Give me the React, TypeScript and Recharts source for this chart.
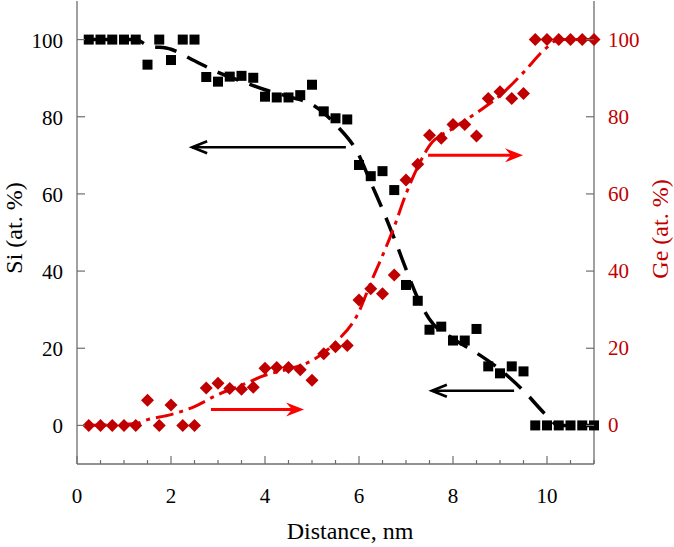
import { ComposedChart, Scatter, Line, XAxis, YAxis, ReferenceLine } from "recharts";

const AXIS = "#6e6e6e";
const GE_DARK = "#c00000";
const FIT_RED = "#e80000";
const ARROW_RED = "#ff0000";
const FONT = "'Times New Roman', 'Liberation Serif', Times, serif";

// measured composition profile
const distance = [
  0.25, 0.5, 0.75, 1.0, 1.25, 1.5, 1.75, 2.0, 2.25, 2.5, 2.75, 3.0, 3.25, 3.5, 3.75,
  4.0, 4.25, 4.5, 4.75, 5.0, 5.25, 5.5, 5.75, 6.0, 6.25, 6.5, 6.75, 7.0, 7.25, 7.5,
  7.75, 8.0, 8.25, 8.5, 8.75, 9.0, 9.25, 9.5, 9.75, 10.0, 10.25, 10.5, 10.75, 11.0,
];
const siValues = [
  100, 100, 100, 100, 100, 93.5, 100, 94.7, 100, 100, 90.3, 89.1, 90.4, 90.6, 90.1,
  85.2, 85, 85, 85.6, 88.3, 81.4, 79.6, 79.3, 67.5, 64.6, 65.9, 61, 36.4, 32.3, 24.8,
  25.6, 22, 22, 25, 15.3, 13.5, 15.3, 14, 0, 0, 0, 0, 0, 0,
];
const geValues = [
  0, 0, 0, 0, 0, 6.5, 0, 5.3, 0, 0, 9.7, 10.9, 9.6, 9.4, 9.9,
  14.8, 15, 15, 14.4, 11.7, 18.6, 20.4, 20.7, 32.5, 35.4, 34.1, 39, 63.6, 67.7, 75.2,
  74.4, 78, 78, 75, 84.7, 86.5, 84.7, 86, 100, 100, 100, 100, 100, 100,
];

// fitted curves
const fitX = [
  0.25, 1.25, 1.5, 2.0, 2.5, 3.0, 3.5, 4.0, 4.5, 5.0, 5.5, 6.0, 6.25, 6.5, 6.75,
  7.0, 7.25, 7.5, 8.0, 8.5, 9.0, 9.5, 10.0, 10.25, 11.0,
];
const siFit = [
  100, 100, 98.5, 97.5, 94.5, 91.5, 89.2, 87, 85.2, 83.2, 78, 70, 63, 56, 48.5,
  40.5, 33, 27.5, 22.5, 18.8, 14.5, 9, 2.5, 0, 0,
];
const geFit = [
  0, 0.5, 1.5, 2.8, 4.9, 8, 10.4, 13, 14.6, 16.8, 21.5, 29.5, 37, 44, 51.5,
  60, 67, 72.5, 77, 81, 85.5, 91.5, 98, 100, 100,
];

// annotation arrows: [xFrom, xTo, y]
const siArrows = [
  [5.72, 2.45, 72.1],
  [9.3, 7.55, 9.0],
];
const geArrows = [
  [2.85, 4.83, 4.1],
  [7.47, 9.49, 70.0],
];

const xTicks = [0, 0.5, 1, 1.5, 2, 2.5, 3, 3.5, 4, 4.5, 5, 5.5, 6, 6.5, 7, 7.5, 8, 8.5, 9, 9.5, 10, 10.5, 11];
const yTicks = [0, 20, 40, 60, 80, 100];

const siPoints = distance.map((x, i) => ({ x, y: siValues[i] }));
const gePoints = distance.map((x, i) => ({ x, y: geValues[i] }));
const siFitPoints = fitX.map((x, i) => ({ x, y: siFit[i] }));
const geFitPoints = fitX.map((x, i) => ({ x, y: geFit[i] }));

const textStyle = { fontFamily: FONT, fontSize: 21 };
const titleStyle = { fontFamily: FONT, fontSize: 24 };

function BottomTick({ x, y, payload }: any) {
  const v = payload.value;
  const major = v % 2 === 0;
  return (
    <g>
      <line x1={x} x2={x} y1={y} y2={y - (major ? 8 : 4)} stroke={AXIS} strokeWidth={1.2} />
      {major && (
        <text x={x} y={y + 39} textAnchor="middle" style={textStyle} fill="#000">
          {v}
        </text>
      )}
    </g>
  );
}

function TopTick({ x, y, payload }: any) {
  const major = payload.value % 2 === 0;
  return <line x1={x} x2={x} y1={y} y2={y + (major ? 8 : 4)} stroke={AXIS} strokeWidth={1.2} />;
}

function LeftTick({ x, y, payload }: any) {
  return (
    <g>
      <line x1={x} x2={x + 8} y1={y} y2={y} stroke={AXIS} strokeWidth={1.2} />
      <text x={x - 14} y={y + 8} textAnchor="end" style={textStyle} fill="#000">
        {payload.value}
      </text>
    </g>
  );
}

function RightTick({ x, y, payload }: any) {
  return (
    <g>
      <line x1={x} x2={x - 8} y1={y} y2={y} stroke={AXIS} strokeWidth={1.2} />
      <text x={x + 14} y={y + 7} textAnchor="start" style={textStyle} fill={GE_DARK}>
        {payload.value}
      </text>
    </g>
  );
}

const square = ({ cx, cy }: any) => <rect x={cx - 5} y={cy - 5} width={10} height={10} fill="#000" />;
const diamond = ({ cx, cy }: any) => (
  <polygon points={`${cx},${cy - 6.5} ${cx + 6.5},${cy} ${cx},${cy + 6.5} ${cx - 6.5},${cy}`} fill={GE_DARK} />
);

// open "<" head for the Si arrows
const blackArrow = ({ x1, y1, x2, y2 }: any) => {
  const dir = Math.sign(x2 - x1);
  return (
    <g stroke="#000" strokeWidth={2.6} fill="none">
      <line x1={x1} y1={y1} x2={x2} y2={y2} />
      <polyline points={`${x2 - dir * 15},${y2 - 6} ${x2},${y2} ${x2 - dir * 15},${y2 + 6}`} />
    </g>
  );
};

// filled notched head for the Ge arrows
const redArrow = ({ x1, y1, x2, y2 }: any) => {
  const dir = Math.sign(x2 - x1);
  return (
    <g>
      <line x1={x1} y1={y1} x2={x2 - dir * 10} y2={y2} stroke={ARROW_RED} strokeWidth={3} />
      <polygon
        points={`${x2},${y2} ${x2 - dir * 18},${y2 - 7} ${x2 - dir * 12},${y2} ${x2 - dir * 18},${y2 + 7}`}
        fill={ARROW_RED}
      />
    </g>
  );
};

export default function App() {
  return (
    <div style={{ position: "absolute", left: 0, top: 0, background: "#fff", fontFamily: FONT }}>
      <ComposedChart width={674} height={547} margin={{ top: 1, right: 20, bottom: 43, left: 17 }}>
        <XAxis
          xAxisId="b"
          dataKey="x"
          type="number"
          domain={[0, 11]}
          ticks={xTicks}
          interval={0}
          height={40}
          tickSize={0}
          tickMargin={0}
          tickLine={false}
          axisLine={{ stroke: AXIS, strokeWidth: 1.3 }}
          tick={<BottomTick />}
          label={{
            content: () => (
              <text x={350} y={539} textAnchor="middle" style={titleStyle} fill="#000">
                Distance, nm
              </text>
            ),
          }}
        />
        <XAxis
          xAxisId="t"
          orientation="top"
          dataKey="x"
          type="number"
          domain={[0, 11]}
          ticks={xTicks}
          interval={0}
          height={0}
          tickSize={0}
          tickMargin={0}
          tickLine={false}
          axisLine={{ stroke: AXIS, strokeWidth: 1.3 }}
          tick={<TopTick />}
        />
        <YAxis
          yAxisId="l"
          dataKey="y"
          type="number"
          domain={[-10, 110]}
          ticks={yTicks}
          interval={0}
          width={60}
          tickSize={0}
          tickMargin={0}
          tickLine={false}
          axisLine={{ stroke: AXIS, strokeWidth: 1.3 }}
          tick={<LeftTick />}
          label={{
            content: () => (
              <text
                x={22}
                y={228}
                transform="rotate(-90 22 228)"
                textAnchor="middle"
                style={titleStyle}
                fill="#000"
              >
                Si (at. %)
              </text>
            ),
          }}
        />
        <YAxis
          yAxisId="r"
          orientation="right"
          dataKey="y"
          type="number"
          domain={[-10, 110]}
          ticks={yTicks}
          interval={0}
          width={60}
          tickSize={0}
          tickMargin={0}
          tickLine={false}
          axisLine={{ stroke: AXIS, strokeWidth: 1.3 }}
          tick={<RightTick />}
          label={{
            content: () => (
              <text
                x={668}
                y={229}
                transform="rotate(-90 668 229)"
                textAnchor="middle"
                style={titleStyle}
                fill={GE_DARK}
              >
                Ge (at. %)
              </text>
            ),
          }}
        />

        <Scatter data={siPoints} dataKey="y" xAxisId="b" yAxisId="l" shape={square} isAnimationActive={false} />
        <Scatter data={gePoints} dataKey="y" xAxisId="b" yAxisId="r" shape={diamond} isAnimationActive={false} />

        <Line
          data={siFitPoints}
          dataKey="y"
          xAxisId="b"
          yAxisId="l"
          type="monotone"
          stroke="#000"
          strokeWidth={3.5}
          strokeDasharray="22 12"
          dot={false}
          activeDot={false}
          isAnimationActive={false}
        />
        <Line
          data={geFitPoints}
          dataKey="y"
          xAxisId="b"
          yAxisId="r"
          type="monotone"
          stroke={FIT_RED}
          strokeWidth={3}
          strokeDasharray="18 6 4 6"
          dot={false}
          activeDot={false}
          isAnimationActive={false}
        />

        {siArrows.map(([a, b, y], i) => (
          <ReferenceLine
            key={`si${i}`}
            xAxisId="b"
            yAxisId="l"
            segment={[{ x: a, y }, { x: b, y }]}
            shape={blackArrow}
          />
        ))}
        {geArrows.map(([a, b, y], i) => (
          <ReferenceLine
            key={`ge${i}`}
            xAxisId="b"
            yAxisId="r"
            segment={[{ x: a, y }, { x: b, y }]}
            shape={redArrow}
          />
        ))}
      </ComposedChart>
    </div>
  );
}
